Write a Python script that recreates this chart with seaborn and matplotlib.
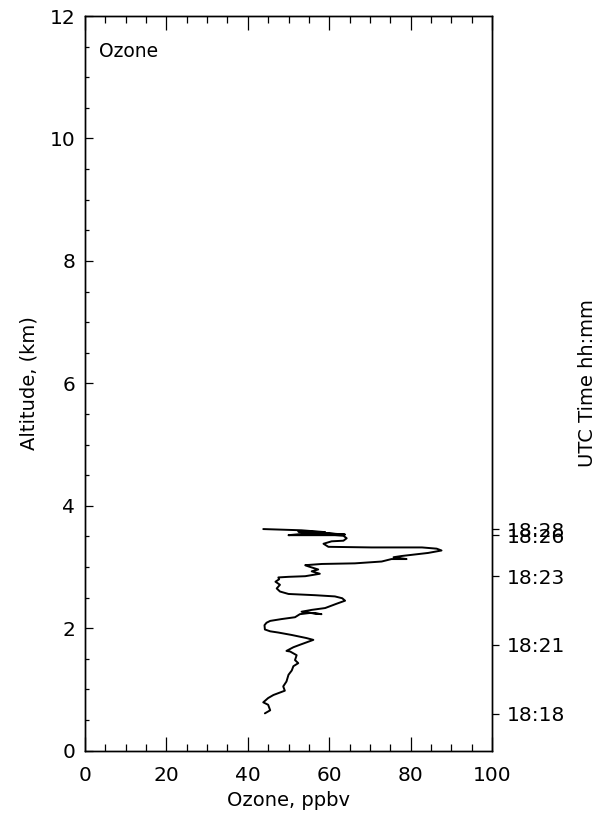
import matplotlib
matplotlib.use("Agg")
import matplotlib.pyplot as plt
import seaborn as sns
import pandas as pd
from matplotlib.ticker import MultipleLocator

# Ozone profile (ppbv) vs altitude (km), bottom to top
ozone = [44.2, 45.5, 45.0, 43.8, 45.0, 46.3, 47.9, 49.1, 48.7, 49.5, 50.0, 50.8,
         51.2, 52.4, 51.6, 52.0, 50.4, 49.5, 51.2, 52.8, 56.1, 54.4, 50.8, 47.5,
         45.5, 44.2, 44.1, 44.6, 45.5, 48.3, 51.6, 52.8, 55.3, 58.1, 53.2, 55.7,
         59.0, 61.8, 63.9, 63.2, 61.4, 56.5, 50.0, 47.9, 47.1, 47.9, 46.8, 47.7,
         47.5, 50.0, 54.1, 57.7, 55.7, 57.3, 54.9, 54.1, 58.2, 66.3, 72.9, 75.3,
         79.0, 75.8, 77.8, 84.3, 87.6, 86.4, 82.8, 70.4, 59.8, 58.6, 60.6, 63.5,
         64.3, 63.5, 61.4, 54.1, 50.0, 53.2, 59.0, 63.9, 58.2, 52.4, 59.0, 53.2,
         43.8]
altitude = [0.61, 0.66, 0.75, 0.79, 0.86, 0.91, 0.95, 0.98, 1.05, 1.13, 1.24, 1.31,
            1.38, 1.43, 1.48, 1.56, 1.62, 1.63, 1.69, 1.73, 1.81, 1.84, 1.89, 1.93,
            1.95, 1.98, 2.05, 2.09, 2.12, 2.15, 2.18, 2.23, 2.25, 2.23, 2.27, 2.30,
            2.33, 2.40, 2.45, 2.49, 2.52, 2.54, 2.56, 2.60, 2.65, 2.71, 2.76, 2.80,
            2.83, 2.84, 2.85, 2.89, 2.93, 2.96, 3.01, 3.03, 3.05, 3.06, 3.09, 3.13,
            3.13, 3.16, 3.18, 3.23, 3.27, 3.30, 3.32, 3.32, 3.33, 3.38, 3.42, 3.43,
            3.47, 3.51, 3.52, 3.52, 3.52, 3.54, 3.55, 3.53, 3.56, 3.58, 3.57, 3.60,
            3.62]

# UTC time markers on right axis
utc_alt = [0.60, 1.73, 2.85, 3.52, 3.62]
utc_labels = ["18:18", "18:21", "18:23", "18:26", "18:28"]

x_ticks = [0, 20, 40, 60, 80, 100]
y_ticks = [0, 2, 4, 6, 8, 10, 12]

sns.set_style("ticks")
plt.rcParams["font.family"] = ["DejaVu Sans"]
for k in ["text.color", "axes.labelcolor", "xtick.color", "ytick.color",
          "axes.edgecolor", "xtick.labelcolor", "ytick.labelcolor"]:
    plt.rcParams[k] = "black"

fig = plt.figure(figsize=(5.98, 8.18), dpi=100)
ax = fig.add_axes([85/598, 67.3/818, 407/598, 734.7/818])

df = pd.DataFrame({"ozone": ozone, "altitude": altitude})
sns.lineplot(data=df, x="ozone", y="altitude", sort=False, estimator=None,
             color="black", linewidth=1.4, ax=ax)

ax.set_xlim(0, 100)
ax.set_ylim(0, 12)
ax.set_xticks(x_ticks)
ax.set_yticks(y_ticks)
ax.xaxis.set_minor_locator(MultipleLocator(5))
ax.yaxis.set_minor_locator(MultipleLocator(0.5))
ax.tick_params(axis="x", which="both", direction="in", top=True, bottom=True,
               labelsize=14.5, pad=11, width=0.9, color="black")
ax.tick_params(axis="x", which="major", length=10)
ax.tick_params(axis="x", which="minor", length=5)
ax.tick_params(axis="y", which="both", direction="in", left=True, right=False,
               labelsize=14.5, pad=7, width=0.9, color="black")
ax.tick_params(axis="y", which="major", length=5.8)
ax.tick_params(axis="y", which="minor", length=2.9)
for s in ax.spines.values():
    s.set_visible(True)
    s.set_linewidth(1.0)
    s.set_color("black")

ax.set_xlabel("Ozone, ppbv", fontsize=14, labelpad=4)
ax.set_ylabel("Altitude, (km)", fontsize=14, labelpad=8)
ax.text(0.035, 0.965, "Ozone", transform=ax.transAxes, fontsize=13.5,
        ha="left", va="top")

ax2 = ax.twinx()
ax2.set_ylim(0, 12)
ax2.set_yticks(utc_alt)
ax2.set_yticklabels(utc_labels)
ax2.tick_params(axis="y", direction="out", length=5, width=0.9, pad=6,
                labelsize=14.5, color="black")
ax2.set_ylabel("UTC Time hh:mm", fontsize=14, labelpad=9)
for s in ax2.spines.values():
    s.set_visible(True)
    s.set_linewidth(1.0)
    s.set_color("black")

fig.savefig("out.png", dpi=100, facecolor="white")
